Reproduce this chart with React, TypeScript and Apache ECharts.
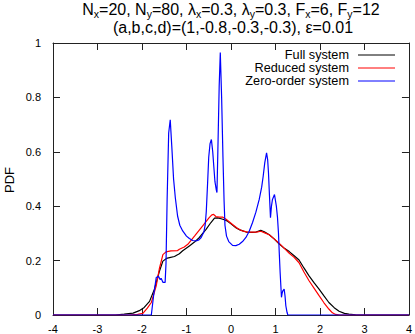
import React, { useEffect, useRef } from "react";
import * as echarts from "echarts";

const xTicks = [-4, -3, -2, -1, 0, 1, 2, 3, 4];
const yTicks = [0, 0.2, 0.4, 0.6, 0.8, 1];

const fullSystem: [number, number][] = [
  [-4, 0], [-2.6, 0], [-2.4, 0.003], [-2.2, 0.007], [-2.06, 0.016], [-1.95, 0.028], [-1.83, 0.05],
  [-1.72, 0.095], [-1.61, 0.16], [-1.53, 0.198], [-1.45, 0.208], [-1.38, 0.211], [-1.27, 0.215],
  [-1.16, 0.225], [-1.085, 0.236], [-0.935, 0.254], [-0.82, 0.268], [-0.71, 0.285], [-0.56, 0.315],
  [-0.45, 0.34], [-0.37, 0.356], [-0.3, 0.357], [-0.22, 0.354], [-0.15, 0.35], [-0.076, 0.345],
  [0.0, 0.335], [0.11, 0.321], [0.2, 0.313], [0.34, 0.305], [0.48, 0.304], [0.56, 0.305],
  [0.67, 0.311], [0.75, 0.306], [0.86, 0.295], [0.97, 0.28], [1.08, 0.262], [1.2, 0.245],
  [1.31, 0.233], [1.42, 0.218], [1.53, 0.202], [1.64, 0.173], [1.755, 0.144], [1.87, 0.118],
  [1.98, 0.095], [2.09, 0.07], [2.2, 0.046], [2.32, 0.027], [2.43, 0.014], [2.55, 0.006],
  [2.65, 0.003], [2.8, 0.001], [3.0, 0], [4, 0],
];

const reducedSystem: [number, number][] = [
  [-4, 0], [-2.3, 0], [-2.1, 0.002], [-1.98, 0.006], [-1.88, 0.025], [-1.79, 0.046], [-1.68, 0.107],
  [-1.61, 0.17], [-1.53, 0.222], [-1.46, 0.232], [-1.35, 0.236], [-1.2, 0.237], [-1.16, 0.242],
  [-1.05, 0.25], [-0.97, 0.26], [-0.82, 0.29], [-0.64, 0.327], [-0.49, 0.358], [-0.43, 0.368],
  [-0.39, 0.37], [-0.34, 0.362], [-0.26, 0.36], [-0.19, 0.36], [-0.11, 0.352], [0.036, 0.333],
  [0.15, 0.318], [0.26, 0.309], [0.37, 0.305], [0.48, 0.305], [0.58, 0.305], [0.67, 0.308],
  [0.76, 0.302], [0.86, 0.295], [0.97, 0.28], [1.08, 0.264], [1.2, 0.245], [1.31, 0.227],
  [1.42, 0.212], [1.53, 0.192], [1.64, 0.158], [1.755, 0.126], [1.87, 0.098], [1.98, 0.071],
  [2.09, 0.045], [2.2, 0.022], [2.28, 0.008], [2.35, 0.002], [2.45, 0], [4, 0],
];

const zeroOrderSystem: [number, number][] = [
  [-4, 0], [-1.79, 0], [-1.74, 0.07], [-1.68, 0.138], [-1.63, 0.142], [-1.59, 0.13], [-1.57, 0.135],
  [-1.53, 0.12], [-1.48, 0.12], [-1.46, 0.19], [-1.435, 0.425], [-1.4, 0.669], [-1.365, 0.718],
  [-1.33, 0.62], [-1.29, 0.5], [-1.25, 0.43], [-1.2, 0.364], [-1.15, 0.33], [-1.085, 0.309],
  [-1.0, 0.29], [-0.935, 0.281], [-0.86, 0.274], [-0.785, 0.272], [-0.72, 0.276], [-0.67, 0.285],
  [-0.61, 0.305], [-0.58, 0.33], [-0.555, 0.38], [-0.525, 0.486], [-0.5, 0.58], [-0.47, 0.63],
  [-0.44, 0.645], [-0.41, 0.6], [-0.39, 0.555], [-0.36, 0.49], [-0.33, 0.46], [-0.315, 0.45],
  [-0.295, 0.6], [-0.265, 0.84], [-0.24, 0.965], [-0.21, 0.8], [-0.18, 0.58], [-0.155, 0.42],
  [-0.135, 0.33], [-0.1, 0.29], [-0.05, 0.27], [0.036, 0.256], [0.11, 0.255], [0.186, 0.26],
  [0.26, 0.27], [0.336, 0.285], [0.41, 0.308], [0.485, 0.34], [0.56, 0.378], [0.635, 0.425],
  [0.69, 0.47], [0.724, 0.51], [0.76, 0.56], [0.8, 0.596], [0.825, 0.57], [0.843, 0.523],
  [0.865, 0.44], [0.888, 0.358], [0.91, 0.4], [0.933, 0.425], [0.978, 0.443], [1.02, 0.4],
  [1.045, 0.36], [1.067, 0.303], [1.085, 0.23], [1.105, 0.156], [1.135, 0.065], [1.15, 0.08],
  [1.166, 0.089], [1.195, 0.095], [1.215, 0.07], [1.233, 0.034], [1.26, 0.01], [1.278, 0], [4, 0],
];

const seriesNames = ["Full system", "Reduced system", "Zero-order system"];
const seriesColors = ["#000000", "#ff0000", "#0000ff"];
const seriesData = [fullSystem, reducedSystem, zeroOrderSystem];

const FONT = "'Liberation Sans', Arial, Helvetica, sans-serif";

export default function App() {
  const ref = useRef<HTMLDivElement>(null);
  useEffect(() => {
    if (!ref.current) return;
    const chart = echarts.init(ref.current, null, { renderer: "svg" });
    const gridLeft = 53, gridRight = 5, gridTop = 43, gridBottom = 18;
    const axisColor = "#222";
    const baseX = {
      type: "value" as const,
      min: -4,
      max: 4,
      interval: 1,
      splitLine: { show: false },
      axisLine: { show: true, onZero: false, lineStyle: { color: axisColor, width: 1 } },
      axisTick: { show: true, inside: true, length: 7, lineStyle: { color: axisColor } },
    };
    const baseY = {
      type: "value" as const,
      min: 0,
      max: 1,
      interval: 0.2,
      splitLine: { show: false },
      axisLine: { show: true, onZero: false, lineStyle: { color: axisColor, width: 1 } },
      axisTick: { show: true, inside: true, length: 7, lineStyle: { color: axisColor } },
    };
    const legendX = 349;
    const legendY0 = 55;
    const legendGap = 13;
    const legendGraphics: any[] = [];
    seriesNames.forEach((name, i) => {
      const y = legendY0 + i * legendGap;
      legendGraphics.push({
        type: "text",
        x: legendX,
        y,
        style: { text: name, font: `12.7px ${FONT}`, fill: "#000", align: "right", verticalAlign: "middle" },
      });
      legendGraphics.push({
        type: "line",
        shape: { x1: 358, y1: y, x2: 395, y2: y },
        style: { stroke: seriesColors[i], lineWidth: 1 },
      });
    });
    const option: any = {
      animation: false,
      grid: { left: gridLeft, right: gridRight, top: gridTop, bottom: gridBottom, containLabel: false },
      xAxis: [
        {
          ...baseX,
          position: "bottom",
          axisLabel: {
            show: true, margin: 8, fontSize: 11, color: "#000", fontFamily: FONT,
            formatter: (v: number) => (xTicks.includes(v) ? String(v) : ""),
          },
        },
        { ...baseX, position: "top", axisLabel: { show: false } },
      ],
      yAxis: [
        {
          ...baseY,
          position: "left",
          axisLabel: {
            show: true, margin: 12, fontSize: 11, color: "#000", fontFamily: FONT,
            formatter: (v: number) => {
              const t = yTicks.find((k) => Math.abs(k - v) < 1e-9);
              return t === undefined ? "" : String(Math.round(t * 10) / 10);
            },
          },
        },
        { ...baseY, position: "right", axisLabel: { show: false } },
      ],
      series: seriesNames.map((name, i) => ({
        name,
        type: "line",
        xAxisIndex: 0,
        yAxisIndex: 0,
        data: seriesData[i],
        showSymbol: false,
        symbol: "none",
        lineStyle: { color: seriesColors[i], width: 1.2 },
        itemStyle: { color: seriesColors[i] },
        z: 2 + i,
      })),
      graphic: [
        {
          type: "text",
          x: 231,
          y: 9.5,
          style: {
            text:
              "{n|N}{s|x}{n|=20, N}{s|y}{n|=80, λ}{s|x}{n|=0.3, λ}{s|y}{n|=0.3, F}{s|x}{n|=6, F}{s|y}{n|=12}",
            align: "center",
            verticalAlign: "middle",
            fill: "#000",
            rich: {
              n: { fontSize: 16, fontFamily: FONT, fill: "#000", lineHeight: 16, verticalAlign: "top", height: 16 },
              s: { fontSize: 10.5, fontFamily: FONT, fill: "#000", lineHeight: 16, verticalAlign: "bottom", height: 8 },
            },
          },
        },
        {
          type: "text",
          x: 233,
          y: 27.5,
          style: {
            text: "(a,b,c,d)=(1,-0.8,-0.3,-0.3), ε=0.01",
            font: `16px ${FONT}`,
            lineHeight: 16,
            fill: "#000",
            align: "center",
            verticalAlign: "middle",
          },
        },
        {
          type: "text",
          x: 9,
          y: 180,
          rotation: Math.PI / 2,
          style: { text: "PDF", font: `13px ${FONT}`, fill: "#000", align: "center", verticalAlign: "middle" },
        },
        ...legendGraphics,
      ],
    };
    chart.setOption(option);
    return () => chart.dispose();
  }, []);
  return <div ref={ref} style={{ width: 415, height: 334, position: "absolute", left: 0, top: 0 }} />;
}
